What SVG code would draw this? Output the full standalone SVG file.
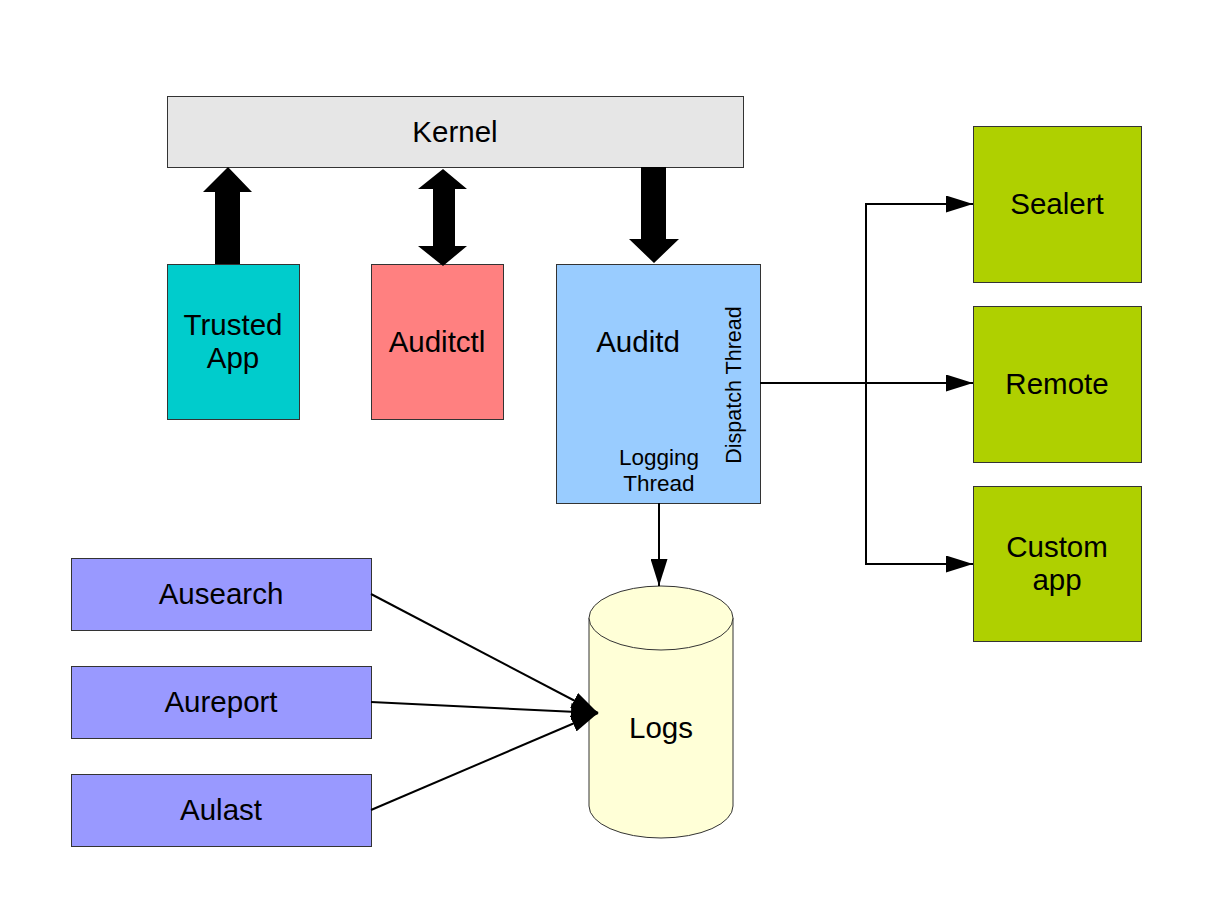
<svg xmlns="http://www.w3.org/2000/svg" width="1224" height="900" viewBox="0 0 1224 900">
<defs>
<style>
.box{stroke:#333;stroke-width:1}
.t{font-family:"Liberation Sans",Arial,sans-serif;font-size:29.5px;fill:#000;text-anchor:middle}
.s{font-family:"Liberation Sans",Arial,sans-serif;font-size:22.5px;fill:#000;text-anchor:middle}
.d{font-family:"Liberation Sans",Arial,sans-serif;font-size:21.5px;fill:#000;text-anchor:middle}
.ln{stroke:#000;stroke-width:2;fill:none}
</style>
<marker id="ah" markerWidth="27" markerHeight="17" refX="27" refY="8.5" orient="auto" markerUnits="userSpaceOnUse">
<path d="M0,0 L27,8.5 L0,17 Z" fill="#000"/>
</marker>
</defs>
<rect width="1224" height="900" fill="#fff"/>
<g id="kernel"><rect class="box" x="167.5" y="96.5" width="576" height="71" fill="#e6e6e6"/><text class="t" x="455" y="142">Kernel</text></g>
<g id="trusted"><rect class="box" x="167.5" y="264.5" width="132" height="155" fill="#00cccc"/><text class="t" x="233" y="335">Trusted</text><text class="t" x="233" y="368">App</text></g>
<g id="auditctl"><rect class="box" x="371.5" y="264.5" width="132" height="155" fill="#ff8080"/><text class="t" x="437" y="352">Auditctl</text></g>
<g id="auditd"><rect class="box" x="556.5" y="264.5" width="204" height="239" fill="#99ccff"/><text class="t" x="638" y="352">Auditd</text><text class="d" x="741" y="385" transform="rotate(-90 741 385)">Dispatch Thread</text><text class="s" x="659" y="465">Logging</text><text class="s" x="659" y="491">Thread</text></g>
<g id="sealert"><rect class="box" x="973.5" y="126.5" width="168" height="156" fill="#afd000"/><text class="t" x="1057" y="214">Sealert</text></g>
<g id="remote"><rect class="box" x="973.5" y="306.5" width="168" height="156" fill="#afd000"/><text class="t" x="1057" y="394">Remote</text></g>
<g id="custom"><rect class="box" x="973.5" y="486.5" width="168" height="155" fill="#afd000"/><text class="t" x="1057" y="557">Custom</text><text class="t" x="1057" y="590">app</text></g>
<g id="ausearch"><rect class="box" x="71.5" y="558.5" width="300" height="72" fill="#9999ff"/><text class="t" x="221" y="604">Ausearch</text></g>
<g id="aureport"><rect class="box" x="71.5" y="666.5" width="300" height="72" fill="#9999ff"/><text class="t" x="221" y="712">Aureport</text></g>
<g id="aulast"><rect class="box" x="71.5" y="774.5" width="300" height="72" fill="#9999ff"/><text class="t" x="221" y="820">Aulast</text></g>
<g id="logs"><path class="box" d="M589,618 L589,806 A72,32 0 0 0 733,806 L733,618" fill="#ffffd7"/><ellipse class="box" cx="661" cy="618" rx="72" ry="32" fill="#ffffd7"/><text class="t" x="661" y="738">Logs</text></g>
<g id="connectors">
<path d="M215,264 L215,192 L203,192 L228,167 L252,192 L240,192 L240,264 Z" fill="#000"/>
<path d="M443,169 L467,189 L455,189 L455,246 L467,246 L443,266 L418,246 L433,246 L433,189 L418,189 Z" fill="#000"/>
<path d="M641,167 L666,167 L666,239 L679,239 L654,263 L629,239 L641,239 Z" fill="#000"/>
<path class="ln" d="M760,383 L866,383"/>
<path class="ln" d="M866,383 L866,204 L973,204" marker-end="url(#ah)"/>
<path class="ln" d="M866,383 L973,383" marker-end="url(#ah)"/>
<path class="ln" d="M866,383 L866,564 L973,564" marker-end="url(#ah)"/>
<path class="ln" d="M659,503 L659,586" marker-end="url(#ah)"/>
<path class="ln" d="M371,594 L598,713" marker-end="url(#ah)"/>
<path class="ln" d="M371,702 L598,713" marker-end="url(#ah)"/>
<path class="ln" d="M371,810 L598,713" marker-end="url(#ah)"/>
</g>
</svg>
